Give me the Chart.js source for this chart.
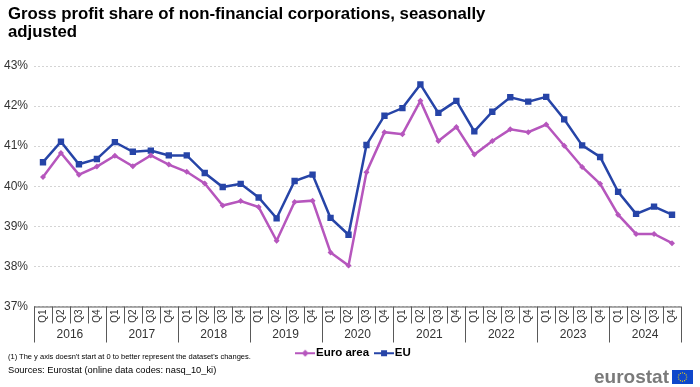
<!DOCTYPE html>
<html>
<head>
<meta charset="utf-8">
<script src="https://cdn.jsdelivr.net/npm/chart.js@4"></script>
<style>
  html, body { margin: 0; padding: 0; background: #fff; }
  #wrap { position: relative; width: 700px; height: 387px; font-family: "Liberation Sans", Arial, sans-serif; }
  #title { position: absolute; left: 8px; top: 5px; font-weight: bold; font-size: 16.8px; line-height: 18px; color: #000; }
  #note { position: absolute; left: 8px; top: 352px; font-size: 7.5px; color: #000; }
  #src { position: absolute; left: 8px; top: 365px; font-size: 9.3px; color: #000; }
  #logo { position: absolute; left: 594px; top: 366px; font-size: 19px; font-weight: bold; color: #7a7a7a; }
  #flag { position: absolute; left: 672px; top: 370px; }
  canvas { position: absolute; left: 0; top: 0; }
</style>
</head>
<body>
<div id="wrap">
  <canvas id="c" width="700" height="387"></canvas>
  <div id="title">Gross profit share of non-financial corporations, seasonally<br>adjusted</div>
  <div id="note">(1) The y axis doesn't start at 0 to better represent the dataset's changes.</div>
  <div id="src">Sources: Eurostat (online data codes: nasq_10_ki)</div>
  <div id="logo">eurostat</div>
  <svg id="flag" width="21" height="14" viewBox="0 0 21 14">
    <rect width="21" height="14" fill="#0e47cb"/>
    <g fill="#ffde00" id="stars"></g>
  </svg>
</div>
<script>
const years = ["2016", "2017", "2018", "2019", "2020", "2021", "2022", "2023", "2024"];
const quarters = ["Q1", "Q2", "Q3", "Q4"];

const euro_area = [
  40.23, 40.83, 40.29, 40.49, 40.76, 40.50, 40.77, 40.54,
  40.36, 40.07, 39.52, 39.63, 39.48, 38.64, 39.61, 39.64,
  38.35, 38.02, 40.35, 41.35, 41.30, 42.13, 41.13, 41.48,
  40.79, 41.13, 41.42, 41.35, 41.54, 41.01, 40.48, 40.06,
  39.29, 38.81, 38.81, 38.58
];
const eu = [
  40.60, 41.11, 40.55, 40.68, 41.10, 40.86, 40.89, 40.77,
  40.77, 40.33, 39.98, 40.06, 39.72, 39.20, 40.13, 40.29,
  39.21, 38.79, 41.03, 41.76, 41.95, 42.54, 41.83, 42.13,
  41.37, 41.86, 42.22, 42.11, 42.23, 41.67, 41.02, 40.73,
  39.86, 39.31, 39.49, 39.29
];

const labels = [];
years.forEach(() => quarters.forEach((q) => labels.push(q)));

const PURPLE = "#b656bd";
const BLUE = "#2644a7";

// stars on the flag
const stars = document.getElementById("stars");
for (let i = 0; i < 12; i++) {
  const a = (i / 12) * Math.PI * 2;
  const s = document.createElementNS("http://www.w3.org/2000/svg", "circle");
  s.setAttribute("cx", 10.5 + Math.cos(a) * 4.2);
  s.setAttribute("cy", 7 + Math.sin(a) * 4.2);
  s.setAttribute("r", 0.6);
  stars.appendChild(s);
}

// legend icons: line with a marker
function legendIcon(color, shape) {
  const c = document.createElement("canvas");
  c.width = 20;
  c.height = 8;
  const g = c.getContext("2d");
  g.strokeStyle = color;
  g.lineWidth = 2;
  g.beginPath();
  g.moveTo(0, 4);
  g.lineTo(20, 4);
  g.stroke();
  g.fillStyle = color;
  if (shape === "square") {
    g.fillRect(7, 1, 6, 6);
  } else {
    g.beginPath();
    g.moveTo(10, 0.5);
    g.lineTo(13.5, 4);
    g.lineTo(10, 7.5);
    g.lineTo(6.5, 4);
    g.closePath();
    g.fill();
  }
  return c;
}

const yearAxis = {
  id: "yearAxis",
  afterLayout(chart) {
    // nudge the legend closer to the axis and a bit to the right
    const lg = chart.legend;
    lg.top -= 6;
    lg.bottom -= 6;
    lg.left += 15;
    lg.right += 15;
  },
  afterDraw(chart) {
    const x = chart.scales.x;
    const top = chart.chartArea.bottom;
    const ctx = chart.ctx;
    const n = labels.length;
    const step = (x.right - x.left) / n;
    ctx.save();
    ctx.strokeStyle = "#595959";
    ctx.lineWidth = 1;
    ctx.beginPath();
    ctx.moveTo(x.left, top + 0.5);
    ctx.lineTo(x.right, top + 0.5);
    for (let i = 0; i <= n; i++) {
      const px = Math.round(x.left + i * step) + 0.5;
      ctx.moveTo(px, top);
      ctx.lineTo(px, top + (i % 4 === 0 ? 36 : 17));
    }
    ctx.stroke();
    ctx.fillStyle = "#333";
    ctx.font = "12px 'Liberation Sans', Arial, sans-serif";
    ctx.textAlign = "center";
    ctx.textBaseline = "middle";
    years.forEach((y, k) => {
      ctx.fillText(y, x.left + (k * 4 + 2) * step, top + 28);
    });
    ctx.restore();
  },
};

new Chart(document.getElementById("c"), {
  type: "line",
  data: {
    labels: labels,
    datasets: [
      {
        label: "Euro area",
        data: euro_area,
        borderColor: PURPLE,
        backgroundColor: PURPLE,
        borderWidth: 2.5,
        pointStyle: "rectRot",
        pointRadius: 3,
        pointBorderWidth: 0,
        tension: 0,
      },
      {
        label: "EU",
        data: eu,
        borderColor: BLUE,
        backgroundColor: BLUE,
        borderWidth: 2.5,
        pointStyle: "rect",
        pointRadius: 4.5,
        pointBorderWidth: 0,
        tension: 0,
      },
    ],
  },
  options: {
    responsive: false,
    animation: false,
    layout: { padding: { top: 66, right: 19, bottom: 12, left: 0 } },
    plugins: {
      tooltip: { enabled: false },
      legend: {
        position: "bottom",
        labels: {
          usePointStyle: true,
          pointStyleWidth: 10,
          padding: 10,
          color: "#000",
          font: { family: "'Liberation Sans', Arial, sans-serif", size: 11.5, weight: "bold" },
          generateLabels(chart) {
            return chart.data.datasets.map((d, i) => ({
              text: d.label,
              datasetIndex: i,
              pointStyle: legendIcon(d.borderColor, i === 0 ? "diamond" : "square"),
              fontColor: "#000",
              lineWidth: 0,
              strokeStyle: "transparent",
              fillStyle: "transparent",
            }));
          },
        },
      },
    },
    scales: {
      x: {
        type: "category",
        offset: true,
        grid: { display: false, drawTicks: false, tickLength: 0 },
        border: { display: false },
        ticks: {
          autoSkip: false,
          minRotation: 90,
          maxRotation: 90,
          padding: 3,
          color: "#333",
          font: { family: "'Liberation Sans', Arial, sans-serif", size: 10 },
        },
        afterFit(scale) {
          scale.height = 37;
        },
      },
      y: {
        min: 37,
        max: 43,
        ticks: {
          stepSize: 1,
          padding: 6,
          color: "#333",
          font: { family: "'Liberation Sans', Arial, sans-serif", size: 12 },
          callback: (v) => v + "%",
        },
        grid: { color: "#d4d4d4", lineWidth: 1, drawTicks: false },
        border: { display: false, dash: [2, 2] },
        afterFit(scale) {
          scale.width = 34;
        },
      },
    },
  },
  plugins: [yearAxis],
});
</script>
</body>
</html>
